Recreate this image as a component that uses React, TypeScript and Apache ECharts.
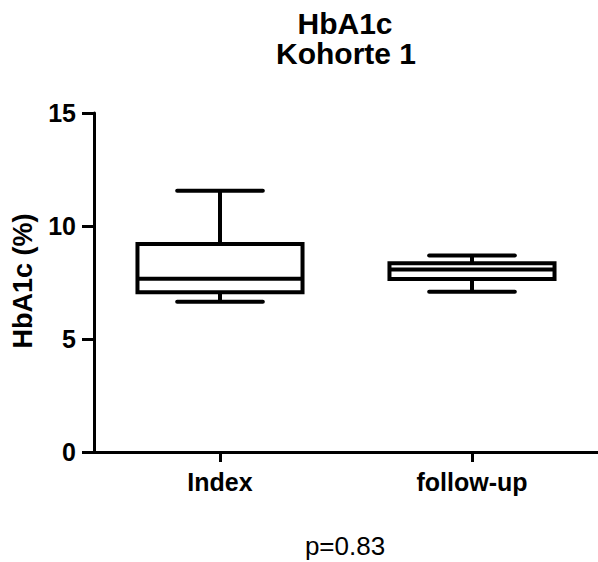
import React, { useEffect, useRef } from "react";
import * as echarts from "echarts";

const categories = ["Index", "follow-up"];
// [min, q1, median, q3, max]
const boxStats = [
  [6.65, 7.07, 7.67, 9.2, 11.56],
  [7.09, 7.65, 8.08, 8.35, 8.69],
];
const yTicks = { min: 0, max: 15, interval: 5 };
const titleLines = ["HbA1c", "Kohorte 1"];
const yAxisTitle = "HbA1c (%)";
const pValueText = "p=0.83";

const FONT = "'Liberation Sans', Arial, sans-serif";

export default function App() {
  const ref = useRef<HTMLDivElement>(null);
  useEffect(() => {
    if (!ref.current) return;
    const chart = echarts.init(ref.current, undefined, { renderer: "svg" });
    const data = boxStats.map((s, i) => [i, ...s]);
    chart.setOption({
      animation: false,
      backgroundColor: "#ffffff",
      grid: { left: 94, right: -6, top: 113, bottom: 110, containLabel: false },
      xAxis: {
        type: "category",
        data: categories,
        boundaryGap: true,
        axisLine: { show: true, lineStyle: { color: "#000", width: 3 } },
        axisTick: { show: true, alignWithLabel: true, length: 10, lineStyle: { color: "#000", width: 3 } },
        axisLabel: { color: "#000", fontSize: 25, fontWeight: "bold", fontFamily: FONT, margin: 17 },
        splitLine: { show: false },
      },
      yAxis: {
        type: "value",
        min: yTicks.min,
        max: yTicks.max,
        interval: yTicks.interval,
        axisLine: { show: true, lineStyle: { color: "#000", width: 3 } },
        axisTick: { show: true, length: 12, lineStyle: { color: "#000", width: 3 } },
        axisLabel: { color: "#000", fontSize: 25, fontWeight: "bold", fontFamily: FONT, margin: 18 },
        splitLine: { show: false },
      },
      graphic: [
        {
          type: "text",
          x: 345,
          y: 23,
          style: { text: titleLines[0], fontSize: 30, fontWeight: "bold", fontFamily: FONT, fill: "#000", textAlign: "center", textVerticalAlign: "middle" },
        },
        {
          type: "text",
          x: 346,
          y: 53,
          style: { text: titleLines[1], fontSize: 30, fontWeight: "bold", fontFamily: FONT, fill: "#000", textAlign: "center", textVerticalAlign: "middle" },
        },
        {
          type: "text",
          x: 23,
          y: 281,
          rotation: Math.PI / 2,
          style: { text: yAxisTitle, fontSize: 27, fontWeight: "bold", fontFamily: FONT, fill: "#000", textAlign: "center", textVerticalAlign: "middle" },
        },
        {
          type: "text",
          x: 345,
          y: 546,
          style: { text: pValueText, fontSize: 26, fontFamily: FONT, fill: "#000", textAlign: "center", textVerticalAlign: "middle" },
        },
      ],
      series: [
        {
          type: "custom",
          data,
          encode: { x: 0, y: [1, 2, 3, 4, 5] },
          renderItem: (params: any, api: any) => {
            const xi = api.value(0);
            const band = api.size([1, 0])[0];
            const boxW = band * 0.655;
            const capW = band * 0.34;
            const pMin = api.coord([xi, api.value(1)]);
            const pQ1 = api.coord([xi, api.value(2)]);
            const pMed = api.coord([xi, api.value(3)]);
            const pQ3 = api.coord([xi, api.value(4)]);
            const pMax = api.coord([xi, api.value(5)]);
            const cx = pMed[0];
            const st = { stroke: "#000", lineWidth: 4, fill: "none" };
            const cap = { stroke: "#000", lineWidth: 4, lineCap: "round" };
            return {
              type: "group",
              children: [
                { type: "line", shape: { x1: cx, y1: pQ3[1], x2: cx, y2: pMax[1] }, style: st },
                { type: "line", shape: { x1: cx, y1: pQ1[1], x2: cx, y2: pMin[1] }, style: st },
                { type: "line", shape: { x1: cx - capW / 2, y1: pMax[1], x2: cx + capW / 2, y2: pMax[1] }, style: cap },
                { type: "line", shape: { x1: cx - capW / 2, y1: pMin[1], x2: cx + capW / 2, y2: pMin[1] }, style: cap },
                {
                  type: "rect",
                  shape: { x: cx - boxW / 2, y: pQ3[1], width: boxW, height: pQ1[1] - pQ3[1] },
                  style: { stroke: "#000", lineWidth: 4, fill: "#fff" },
                },
                { type: "line", shape: { x1: cx - boxW / 2, y1: pMed[1], x2: cx + boxW / 2, y2: pMed[1] }, style: st },
              ],
            };
          },
        },
      ],
    });
    return () => chart.dispose();
  }, []);
  return (
    <div
      ref={ref}
      style={{ position: "fixed", left: 0, top: 0, width: 598, height: 562, background: "#fff" }}
    />
  );
}
